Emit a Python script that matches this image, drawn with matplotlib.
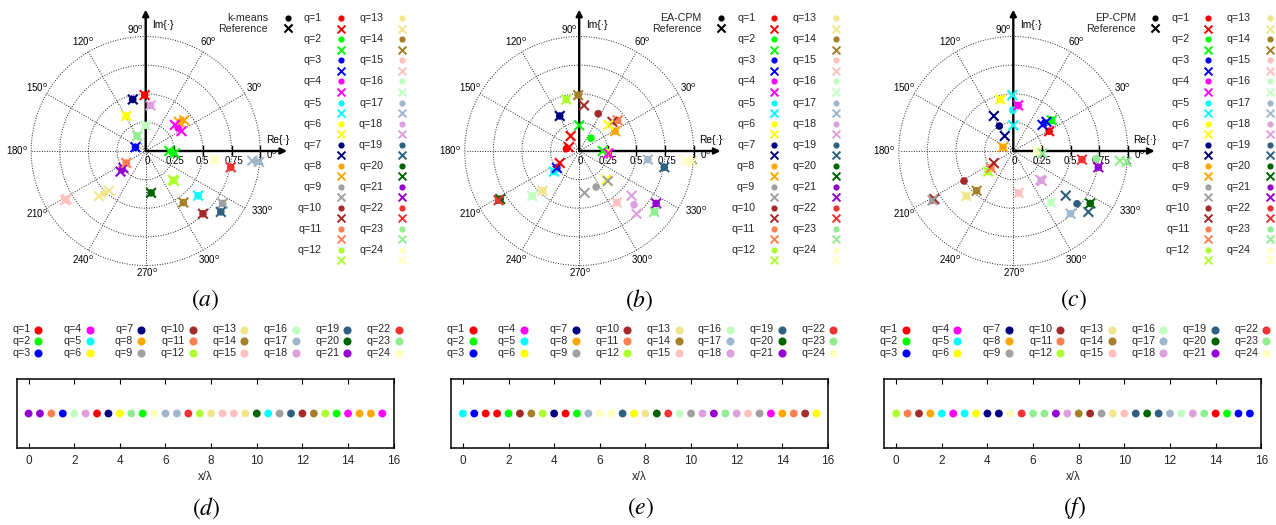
import numpy as np
import matplotlib
matplotlib.use('Agg')
import matplotlib.pyplot as plt

plt.rcParams['font.family'] = ['Liberation Sans', 'DejaVu Sans']
plt.rcParams['mathtext.fontset'] = 'stix'

W, H = 1276, 525

colors = ['#ff0000', '#00ff00', '#0000ff', '#ff00ff', '#00ffff', '#ffff00',
          '#000080', '#ffa500', '#a0a0a0', '#a52a2a', '#ff7f50', '#adff2f',
          '#f0e68c', '#a57f2a', '#ffc0c0', '#c0ffc0', '#a0b6cd', '#dda0dd',
          '#306080', '#006400', '#9400d3', '#f03232', '#90ee90', '#ffffc0']
q_labels = ['q=%d' % q for q in range(1, 25)]

# element positions x/lambda
x_pos = [0, 0.5, 1, 1.5, 2, 2.5, 3, 3.5, 4, 4.5, 5, 5.5, 6, 6.5, 7, 7.5,
         8, 8.5, 9, 9.5, 10, 10.5, 11, 11.5, 12, 12.5, 13, 13.5, 14, 14.5, 15, 15.5]

# reference value of every element (crosses)
ref_re = [-0.22, -0.195, -0.17, -0.09, 0.0, 0.042, -0.009, -0.113, -0.17, -0.075,
          0.205, 0.60, 0.93, 0.99, 0.743, 0.237, -0.32, -0.69, -0.705, -0.41,
          0.047, 0.458, 0.672, 0.656, 0.50, 0.329, 0.25, 0.255, 0.313, 0.336, 0.29, 0.255]
ref_im = [-0.18, -0.148, -0.105, 0.033, 0.224, 0.398, 0.488, 0.45, 0.306, 0.131,
          0.0, -0.075, -0.085, -0.095, -0.142, -0.252, -0.347, -0.42, -0.43, -0.394,
          -0.366, -0.39, -0.458, -0.532, -0.548, -0.45, -0.262, -0.02, 0.173, 0.268, 0.255, 0.228]

# cluster index of every element
q_kmeans = [21, 21, 11, 3, 16, 18, 1, 7, 6, 23, 2, 24, 17, 17, 22, 12,
            13, 15, 15, 13, 20, 5, 9, 19, 10, 14, 12, 2, 4, 8, 8, 4]
q_eacpm = [5, 3, 1, 1, 2, 10, 14, 12, 7, 1, 2, 17, 24, 24, 19, 6,
           13, 20, 22, 16, 9, 18, 21, 23, 18, 15, 9, 4, 8, 11, 10, 6]
q_epcpm = [12, 11, 10, 8, 5, 4, 5, 6, 7, 7, 24, 22, 23, 23, 21, 18,
           14, 10, 9, 13, 15, 19, 20, 19, 17, 16, 18, 23, 1, 2, 3, 3]

# estimated cluster values q=1..24 (dots)
km_re = [-0.009, 0.23, -0.09, 0.284, 0.458, -0.17, -0.113, 0.313, 0.672, 0.50, -0.17, 0.244,
         -0.365, 0.329, -0.698, 0.0, 0.96, 0.042, 0.656, 0.047, -0.208, 0.743, -0.075, 0.60]
km_im = [0.488, -0.01, 0.033, 0.20, -0.39, 0.306, 0.45, 0.262, -0.458, -0.548, -0.105, -0.257,
         -0.37, -0.45, -0.425, 0.224, -0.09, 0.398, -0.532, -0.366, -0.164, -0.142, 0.131, -0.075]
ea_re = [-0.112, 0.103, -0.195, 0.255, -0.22, 0.246, -0.17, 0.313, 0.148, 0.166, 0.336, -0.113,
         -0.32, -0.009, 0.329, -0.41, 0.60, 0.479, 0.743, -0.69, 0.672, -0.705, 0.656, 0.96]
ea_im = [0.02, 0.112, -0.148, -0.02, -0.18, -0.012, 0.306, 0.173, -0.314, 0.326, 0.268, 0.45,
         -0.347, 0.488, -0.45, -0.394, -0.075, -0.469, -0.142, -0.42, -0.458, -0.43, -0.532, -0.09]
ep_re = [0.313, 0.336, 0.272, 0.042, -0.005, -0.113, -0.122, -0.09, -0.705, -0.43, -0.195, -0.22,
         -0.41, -0.32, 0.047, 0.329, 0.50, 0.244, 0.557, 0.672, 0.743, 0.60, 0.725, 0.205]
ep_im = [0.173, 0.268, 0.242, 0.398, 0.356, 0.45, 0.218, 0.033, -0.43, -0.262, -0.148, -0.18,
         -0.394, -0.347, -0.366, -0.45, -0.548, -0.257, -0.461, -0.458, -0.142, -0.075, -0.067, 0.0]

fig = plt.figure(figsize=(W / 100, H / 100), dpi=100)
ov = fig.add_axes([0, 0, 1, 1])
ov.set_xlim(0, W)
ov.set_ylim(H, 0)
ov.axis('off')

UNIT = 114.5
CY = 151
R = 1.3


def polar_panel(cx, name, c_re, c_im, assign, tag):
    size = 2 * R * UNIT
    ax = fig.add_axes([(cx - R * UNIT) / W, (H - CY - R * UNIT) / H, size / W, size / H])
    ax.set_xlim(-R, R)
    ax.set_ylim(-R, R)
    ax.axis('off')
    t = np.linspace(0, 2 * np.pi, 400)
    for r in [0.25, 0.5, 0.75, 1.0]:
        ax.plot(r * np.cos(t), r * np.sin(t), color='0.15', lw=0.7, ls=(0, (1, 1.6)))
    tweak = {0: (1.1, -0.03), 90: (-0.09, 1.055), 270: (0.01, -1.06), 330: (1.02, -0.52),
             180: (-1.125, 0.0)}
    for a in range(0, 360, 30):
        th = np.deg2rad(a)
        ax.plot([0, np.cos(th)], [0, np.sin(th)], color='0.15', lw=0.7, ls=(0, (1, 1.6)))
        lx, ly = tweak.get(a, (1.1 * np.cos(th), 1.1 * np.sin(th)))
        ax.text(lx, ly, '%d$^{\\mathrm{o}}$' % a, fontsize=7, ha='center', va='center',
                math_fontfamily='dejavusans')
    ax.annotate('', xy=(1.235, 0), xytext=(0, 0),
                arrowprops=dict(arrowstyle='-|>', lw=1.7, color='k', mutation_scale=9,
                                shrinkA=0, shrinkB=0))
    ax.annotate('', xy=(0, 1.235), xytext=(0, 0),
                arrowprops=dict(arrowstyle='-|>', lw=1.7, color='k', mutation_scale=9,
                                shrinkA=0, shrinkB=0))
    for v in [0.25, 0.5, 0.75, 1.0]:
        ax.plot([v, v], [-0.035, 0.045], color='k', lw=1.0)
    for v, lab in zip([0.01, 0.253, 0.497, 0.77, 1.0], ['0', '0.25', '0.5', '0.75', '1']):
        ax.text(v, -0.085, lab, fontsize=7, ha='center', va='center')
    ax.text(1.05, 0.096, 'Re{\u00b7}', fontsize=7.3, ha='left', va='center')
    ax.text(0.06, 1.1, 'Im{\u00b7}', fontsize=7.3, ha='left', va='center')
    ax.scatter(c_re, c_im, c=colors, s=30, marker='o', linewidths=0, zorder=4)
    ax.scatter(ref_re, ref_im, c=[colors[q - 1] for q in assign], s=48, marker='x',
               linewidths=1.5, zorder=5)
    # legends
    ov.text(cx + 122.5, 17.7, name, fontsize=7.7, ha='right', va='center', color='0.15')
    ov.text(cx + 122.5, 28.6, 'Reference', fontsize=7.7, ha='right', va='center', color='0.15')
    ov.scatter([cx + 141.8], [17.7], s=20, c='k', marker='o', linewidths=0)
    ov.scatter([cx + 141.8], [28.4], s=34, c='k', marker='x', linewidths=1.5)
    for i in range(24):
        col, row = divmod(i, 12)
        mx = cx + 195 + col * 61.3
        my = 18.3 + row * 21.06
        ov.text(mx - 19, my, q_labels[i], fontsize=7.7, ha='right', va='center', color='0.15')
        ov.scatter([mx], [my], s=20, c=colors[i], marker='o', linewidths=0)
        ov.scatter([mx], [my + 10.3], s=32, c=colors[i], marker='x', linewidths=1.4)
    ov.text(cx + 60, 300, '$(%s)$' % tag, fontsize=17, ha='center', va='center')


def line_panel(left, assign, tag):
    top, bot, wid = 379.3, 447.7, 377
    ax = fig.add_axes([left / W, (H - bot) / H, wid / W, (bot - top) / H])
    ax.scatter(x_pos, [0] * len(x_pos), c=[colors[q - 1] for q in assign], s=32,
               marker='o', linewidths=0, zorder=3, clip_on=False)
    ax.set_xlim(-0.52, 16)
    ax.set_ylim(-1, 1)
    ax.set_yticks([])
    ax.set_xticks(range(0, 17, 2))
    ax.tick_params(axis='x', direction='in', top=True, length=3.5, width=0.8,
                   labelsize=8.5, pad=5, labelcolor='0.15')
    for s in ax.spines.values():
        s.set_linewidth(1.1)
    ax.set_xlabel('x/\u03bb', fontsize=8.3, labelpad=3, color='0.15')
    for i in range(24):
        col, row = divmod(i, 3)
        mx = left + 21.5 + col * 51.5
        my = 329.5 + row * 11.6
        ov.text(mx - 8, my, q_labels[i], fontsize=7.7, ha='right', va='center', color='0.15')
        ov.scatter([mx], [my], s=34, c=colors[i], marker='o', linewidths=0)
    ov.text(left + 190, 508, '$(%s)$' % tag, fontsize=17, ha='center', va='center')


polar_panel(145.7, 'k-means', km_re, km_im, q_kmeans, 'a')
polar_panel(579.2, 'EA-CPM', ea_re, ea_im, q_eacpm, 'b')
polar_panel(1013.3, 'EP-CPM', ep_re, ep_im, q_epcpm, 'c')
line_panel(16.7, q_kmeans, 'd')
line_panel(451, q_eacpm, 'e')
line_panel(884.3, q_epcpm, 'f')

fig.savefig('out.png', dpi=100)
